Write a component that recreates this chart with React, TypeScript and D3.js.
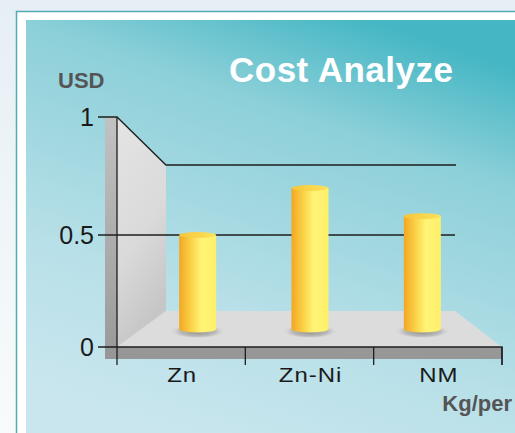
import React from 'react';
import * as d3 from 'd3';

// chart data
const categories = ['Zn', 'Zn-Ni', 'NM'];
const costs = [0.5, 0.75, 0.6];
const tickValues = [0, 0.5, 1];
const tickLabels = ['0', '0.5', '1'];

const W = 515;
const H = 433;

// pseudo-3D box: front face, back face and the depth where the bars stand
const front = { left: 117, right: 502, floor: 347, top: 117 };
const back = { left: 166, right: 455, floor: 311, top: 165 };
const lerp = (a: number, b: number, t: number) => a + (b - a) * t;
const depth = 0.5;
const mid = {
  left: lerp(front.left, back.left, depth),
  right: lerp(front.right, back.right, depth),
  floor: lerp(front.floor, back.floor, depth),
};

const App: React.FC = () => {
  const yFront = d3.scaleLinear().domain([0, 1]).range([front.floor, front.top]);
  const yBar = d3.scaleLinear().domain([0, 1]).range([mid.floor, 141]);
  const xFront = d3.scaleBand<string>().domain(categories).range([front.left, front.right]);
  const xBar = d3.scaleBand<string>().domain(categories).range([mid.left, mid.right]);

  const barW = 37;
  const rx = barW / 2;
  const ry = 3.5;

  const wallPath = d3.line()([
    [front.left, front.top],
    [back.left, back.top],
    [back.left, back.floor],
    [front.left, front.floor],
  ]) + 'Z';
  const floorPath = d3.line()([
    [front.left, front.floor],
    [back.left, back.floor],
    [back.right, back.floor],
    [front.right, front.floor],
  ]) + 'Z';
  const topLine = d3.line()([
    [98, yFront(1)],
    [front.left, front.top],
    [back.left, back.top],
    [back.right + 1, back.top],
  ]);

  // tick positions: 1 on the front edge, 0.5 level with the bars, 0 on the floor edge
  const tickY = (v: number) => (v === 0 ? yFront(0) : v === 1 ? yFront(1) : yBar(v));

  const bottomStrip = 12;
  const categoryTicks = [...categories.slice(1).map((c) => xFront(c)!), front.right];

  return (
    <div style={{ position: 'fixed', left: 0, top: 0 }}>
      <svg width={W} height={H} style={{ display: 'block' }}>
        <defs>
          <linearGradient id="pageBg" x1="0" y1="0" x2="0" y2="1">
            <stop offset="0" stopColor="#e6eff5" />
            <stop offset="1" stopColor="#f8fbfb" />
          </linearGradient>
          <linearGradient id="panelBg" x1="0.3" y1="1" x2="0.7" y2="0">
            <stop offset="0" stopColor="#c9e6ee" />
            <stop offset="0.3" stopColor="#b8e0e8" />
            <stop offset="0.75" stopColor="#8dd0d9" />
            <stop offset="1" stopColor="#45b7c4" />
          </linearGradient>
          <linearGradient id="wallFill" x1="0" y1="0" x2="0.3" y2="1">
            <stop offset="0" stopColor="#e4e4e4" />
            <stop offset="0.6" stopColor="#dadada" />
            <stop offset="1" stopColor="#c6c6c6" />
          </linearGradient>
          <linearGradient id="sideFill" x1="0" y1="0" x2="0" y2="1">
            <stop offset="0" stopColor="#c2c2c2" />
            <stop offset="1" stopColor="#999999" />
          </linearGradient>
          <linearGradient id="cylBody" x1="0" y1="0" x2="1" y2="0">
            <stop offset="0" stopColor="#f3a622" />
            <stop offset="0.35" stopColor="#fbd64c" />
            <stop offset="0.6" stopColor="#fff476" />
            <stop offset="1" stopColor="#fff06a" />
          </linearGradient>
          <linearGradient id="cylTop" x1="0" y1="0" x2="1" y2="0">
            <stop offset="0" stopColor="#f6c63a" />
            <stop offset="1" stopColor="#fde25a" />
          </linearGradient>
          <radialGradient id="shadow" cx="0.5" cy="0.6" r="0.5">
            <stop offset="0" stopColor="#777777" stopOpacity="0.85" />
            <stop offset="0.65" stopColor="#a0a0a0" stopOpacity="0.55" />
            <stop offset="1" stopColor="#dcdcdc" stopOpacity="0" />
          </radialGradient>
        </defs>

        <rect x={0} y={0} width={W} height={H} fill="url(#pageBg)" />
        <rect x={16.5} y={11.5} width={W} height={H} fill="#ffffff" stroke="#55a9b4" strokeWidth={1.5} />
        <rect x={26} y={20} width={W - 26} height={H - 20} fill="url(#panelBg)" />

        {/* title + axis names */}
        <text x={229} y={82} fill="#ffffff" fontFamily="Liberation Sans, Arial, sans-serif"
          fontWeight="bold" fontSize={35} letterSpacing={0.5}>Cost Analyze</text>
        <text x={58} y={88} fill="#555555" fontFamily="Liberation Sans, Arial, sans-serif"
          fontWeight="bold" fontSize={22}>USD</text>
        <text x={512} y={411} textAnchor="end" fill="#555555" fontFamily="Liberation Sans, Arial, sans-serif"
          fontWeight="bold" fontSize={22}>Kg/per</text>

        {/* box */}
        <rect x={105} y={front.top} width={front.left - 105} height={front.floor - front.top + bottomStrip}
          fill="url(#sideFill)" />
        <path d={wallPath} fill="url(#wallFill)" />
        <path d={floorPath} fill="#dcdcdc" />
        <rect x={105} y={front.floor} width={front.right - 105} height={bottomStrip} fill="#979797" />

        {/* grid lines */}
        <path d={topLine!} fill="none" stroke="#1e1e1e" strokeWidth={1.3} />
        <line x1={98} x2={back.right} y1={yBar(0.5)} y2={yBar(0.5)} stroke="#1e1e1e" strokeWidth={1.3} />

        {/* bars */}
        {categories.map((c, i) => {
          const cx = xBar(c)! + xBar.bandwidth() / 2;
          const top = yBar(costs[i]);
          const base = yBar(0);
          return (
            <g key={c}>
              <ellipse cx={cx} cy={base + 1} rx={28} ry={7.5} fill="url(#shadow)" />
              <rect x={cx - rx} y={top} width={barW} height={base - top} fill="url(#cylBody)" />
              <ellipse cx={cx} cy={base} rx={rx} ry={ry} fill="url(#cylBody)" />
              <ellipse cx={cx} cy={top} rx={rx} ry={ry - 0.5} fill="url(#cylTop)" />
            </g>
          );
        })}

        {/* axes */}
        <line x1={front.left} x2={front.left} y1={front.top} y2={front.floor + 18} stroke="#1e1e1e" strokeWidth={1.3} />
        <path d={`M98,${front.floor}H${front.right}V${front.floor + 18}`} fill="none" stroke="#1e1e1e" strokeWidth={1.3} />
        {categoryTicks.map((x) => (
          <line key={x} x1={x} x2={x} y1={front.floor} y2={front.floor + 18} stroke="#1e1e1e" strokeWidth={1.3} />
        ))}

        {tickValues.map((v, i) => (
          <text key={v} x={94} y={tickY(v) + 9} textAnchor="end" fill="#1a1a1a"
            fontFamily="Liberation Sans, Arial, sans-serif" fontSize={25}>{tickLabels[i]}</text>
        ))}

        {categories.map((c) => (
          <text key={c} transform={`translate(${xFront(c)! + xFront.bandwidth() / 2 + 1},382) scale(1.2,1)`}
            textAnchor="middle" fill="#1a1a1a" fontFamily="Liberation Sans, Arial, sans-serif"
            fontSize={20} letterSpacing={0.8}>{c}</text>
        ))}
      </svg>
    </div>
  );
};

export default App;
